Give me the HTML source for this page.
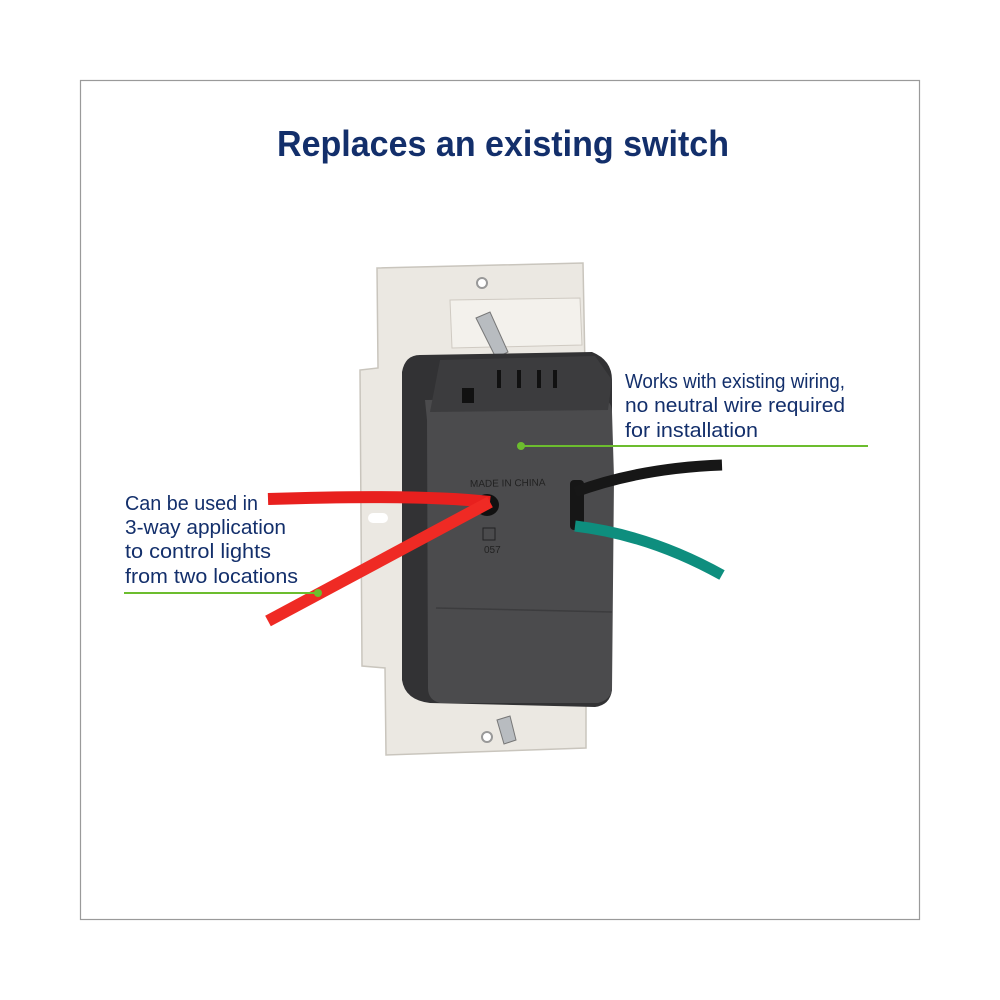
<!DOCTYPE html>
<html><head><meta charset="utf-8"><style>
html,body{margin:0;padding:0;background:#fff;}
svg{display:block;}
</style></head><body>
<svg width="1000" height="1000" viewBox="0 0 1000 1000" xmlns="http://www.w3.org/2000/svg" font-family="Liberation Sans, sans-serif">
<rect x="0" y="0" width="1000" height="1000" fill="#fff"/>
<rect x="80.5" y="80.5" width="839" height="839" fill="none" stroke="#9a9a9a" stroke-width="1.2"/>
<text x="503" y="156" text-anchor="middle" font-size="36" font-weight="bold" fill="#132f6b" textLength="452" lengthAdjust="spacingAndGlyphs">Replaces an existing switch</text>

<!-- plate -->
<path d="M377,268 L583,263 L585,368 L602,368 L604,662 L586,665 L586,748 L386,755 L385,668 L362,666 L360,370 L378,368 Z" fill="#ebe8e2" stroke="#c9c5bd" stroke-width="1.5"/>
<path d="M450,300 L580,298 L582,345 L452,348 Z" fill="#f3f1ec" stroke="#cfcac2"/>
<circle cx="482" cy="283" r="5" fill="#fff" stroke="#999" stroke-width="2"/>
<circle cx="487" cy="737" r="5" fill="#fff" stroke="#999" stroke-width="2"/>
<rect x="368" y="513" width="20" height="10" rx="5" fill="#fff"/>
<!-- screws -->
<path d="M476,318 L490,312 L508,352 L496,358 Z" fill="#b8bcc0" stroke="#777"/>
<path d="M497,720 L510,716 L516,740 L504,744 Z" fill="#b8bcc0" stroke="#777"/>
<!-- body -->
<path d="M402,372 Q405,355 420,355 L592,352 Q612,360 612,380 L612,690 Q610,705 595,707 L430,703 Q405,700 402,680 Z" fill="#323234"/>
<path d="M425,400 L600,398 Q612,400 612,412 L614,478 L612,690 Q610,700 598,703 L440,703 Q428,700 428,688 L427,420 Q425,400 425,400 Z" fill="#4b4b4d"/>
<path d="M440,360 L595,356 L612,380 L608,410 L430,412 Z" fill="#3c3c3e"/>
<rect x="462" y="388" width="12" height="15" fill="#111"/>
<rect x="497" y="370" width="4" height="18" fill="#111"/>
<rect x="517" y="370" width="4" height="18" fill="#111"/>
<rect x="537" y="370" width="4" height="18" fill="#111"/>
<rect x="553" y="370" width="4" height="18" fill="#111"/>
<line x1="436" y1="608" x2="612" y2="612" stroke="#3c3c3e" stroke-width="1.5"/>
<text x="470" y="487" font-size="10" fill="#222" transform="rotate(-1 470 487)">MADE IN CHINA</text>
<text x="484" y="553" font-size="10" fill="#222">057</text>
<rect x="483" y="528" width="12" height="12" fill="none" stroke="#222"/>
<!-- wire holes -->
<ellipse cx="487" cy="505" rx="12" ry="11" fill="#111"/>
<rect x="570" y="480" width="14" height="50" rx="4" fill="#161616"/>
<!-- wires -->
<path d="M268,499 Q420,494 490,502" fill="none" stroke="#e8201e" stroke-width="12" stroke-linecap="butt"/>
<path d="M268,621 Q400,550 490,502" fill="none" stroke="#ef2a24" stroke-width="12"/>
<path d="M575,492 Q640,468 722,465" fill="none" stroke="#171717" stroke-width="11"/>
<path d="M575,526 Q650,535 722,575" fill="none" stroke="#0e8e7e" stroke-width="11"/>
<!-- callouts -->
<line x1="521" y1="446" x2="868" y2="446" stroke="#6cbd2e" stroke-width="2"/>
<circle cx="521" cy="446" r="4" fill="#6cbd2e"/>
<line x1="124" y1="593" x2="318" y2="593" stroke="#6cbd2e" stroke-width="2"/>
<circle cx="318" cy="593" r="4" fill="#6cbd2e"/>
<g font-size="20" fill="#132f6b">
<text x="125" y="510" textLength="133" lengthAdjust="spacingAndGlyphs">Can be used in</text>
<text x="125" y="534" textLength="161" lengthAdjust="spacingAndGlyphs">3-way application</text>
<text x="125" y="558" textLength="146" lengthAdjust="spacingAndGlyphs">to control lights</text>
<text x="125" y="583" textLength="173" lengthAdjust="spacingAndGlyphs">from two locations</text>
<text x="625" y="388" textLength="220" lengthAdjust="spacingAndGlyphs">Works with existing wiring,</text>
<text x="625" y="412" textLength="220" lengthAdjust="spacingAndGlyphs">no neutral wire required</text>
<text x="625" y="437" textLength="133" lengthAdjust="spacingAndGlyphs">for installation</text>
</g>
</svg>
</body></html>
